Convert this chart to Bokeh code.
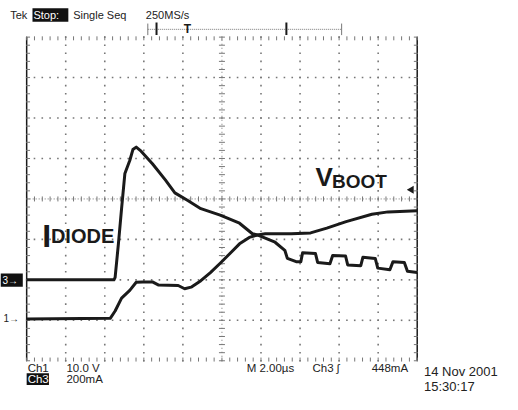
import numpy as np
from bokeh.plotting import figure
from bokeh.core.properties import value
from bokeh.embed import file_html
from bokeh.resources import INLINE

# ---- data: time in microseconds (2 us/div), amplitude in divisions ----
idiode_t = [-10.0, -5.53, -5.47, -5.30, -5.14, -4.97, -4.72, -4.56, -4.39, -4.14,
            -3.56, -2.90, -2.41, -1.75, -1.08, -0.09, 0.90, 1.56, 1.81, 2.72,
            3.22, 3.35, 3.80, 4.04, 4.13, 4.79, 4.90, 5.53, 5.67, 6.33,
            6.44, 7.11, 7.22, 7.85, 7.98, 8.60, 8.76, 9.34, 9.50, 10.0]
idiode_d = [-2.00, -2.00, -1.94, -1.10, -0.24, 0.63, 0.95, 1.22, 1.28, 1.18,
            0.87, 0.47, 0.15, -0.04, -0.24, -0.40, -0.60, -0.86, -0.89, -1.07,
            -1.27, -1.47, -1.55, -1.55, -1.33, -1.35, -1.57, -1.60, -1.40, -1.41,
            -1.63, -1.65, -1.44, -1.47, -1.71, -1.75, -1.55, -1.57, -1.79, -1.82]

vboot_t = [-10.0, -5.72, -5.47, -5.14, -4.72, -4.39, -4.06, -3.56, -3.24, -2.24,
           -1.91, -1.58, -1.08, -0.59, -0.09, 0.41, 0.90, 1.40, 1.81, 2.22,
           3.55, 4.54, 5.37, 6.36, 7.68, 8.51, 10.0]
vboot_d = [-2.97, -2.95, -2.77, -2.45, -2.26, -2.06, -2.05, -2.05, -2.13, -2.14,
           -2.22, -2.18, -2.02, -1.82, -1.59, -1.35, -1.11, -0.95, -0.89, -0.86,
           -0.86, -0.84, -0.72, -0.56, -0.38, -0.32, -0.29]

x_div_lines = [-8, -6, -4, -2, 2, 4, 6, 8]
y_div_lines = [-3, -2, -1, 1, 2, 3]

# ---- layout helpers (reference-pixel -> data coords, for annotations only) ----
def tx(px):
    return (px - 27) / 40.3 * 2 - 10

def dy(py):
    return (206.5 - py) / 42.1

p = figure(width=502, height=394, x_range=(tx(0), tx(518)), y_range=(dy(410), dy(0)),
           output_backend="svg", toolbar_location=None, min_border=0)
p.axis.visible = False
p.grid.visible = False
p.outline_line_color = None
p.background_fill_color = "white"

GRID = "#777777"
INK = "#1a1a1a"
FONT = value("Liberation Sans")

# graticule dots
minor_y = np.round(np.arange(-4, 4.001, 0.2), 3)
minor_x = np.round(np.arange(-10, 10.001, 0.4), 3)
gx = [x for x in x_div_lines for _ in minor_y]
gy = [y for _ in x_div_lines for y in minor_y]
p.scatter(gx, gy, marker="square", size=1.6, color=GRID, line_color=None)
hx = [x for _ in y_div_lines for x in minor_x]
hy = [y for y in y_div_lines for _ in minor_x]
p.scatter(hx, hy, marker="square", size=1.6, color=GRID, line_color=None)

# center cross
p.line([-10, 10], [0, 0], line_color=GRID, line_width=1, line_dash="1 2")
p.scatter(minor_x, [0] * len(minor_x), marker="dash", angle=np.pi / 2, size=5,
          line_color=GRID, line_width=1)
p.line([0, 0], [-4, 4], line_color=GRID, line_width=1, line_dash="1 3")
p.scatter([0] * len(minor_y), minor_y, marker="dash", size=6, line_color=GRID, line_width=1)

# border: solid left/right, tick rows on top/bottom
p.line([-10, -10], [-4, 4], line_color=INK, line_width=1.5)
p.line([10, 10], [-4, 4], line_color=INK, line_width=1.5)
p.scatter(minor_x, [3.97] * len(minor_x), marker="dash", angle=np.pi / 2, size=4,
          line_color=GRID, line_width=1)
p.scatter(minor_x, [-3.97] * len(minor_x), marker="dash", angle=np.pi / 2, size=4,
          line_color=GRID, line_width=1)
p.scatter([-9.93] * len(minor_y), minor_y, marker="dash", size=4, line_color=GRID, line_width=1)
p.scatter([9.93] * len(minor_y), minor_y, marker="dash", size=4, line_color=GRID, line_width=1)

# traces
p.line(idiode_t, idiode_d, line_color=INK, line_width=3, line_join="round")
p.line(vboot_t, vboot_d, line_color=INK, line_width=3, line_join="round")

# trigger level marker
p.scatter([tx(424)], [dy(197)], marker="triangle", angle=np.pi / 2, size=8,
          color=INK, line_color=None)

# record bar at top
p.line([tx(152), tx(352)], [dy(30), dy(30)], line_color=GRID, line_width=1, line_dash="1 1")
p.segment([tx(152), tx(352)], [dy(24), dy(24)], [tx(152), tx(352)], [dy(36), dy(36)],
          line_color=GRID, line_width=1)
p.segment([tx(161), tx(295)], [dy(23), dy(23)], [tx(161), tx(295)], [dy(36), dy(36)],
          line_color=INK, line_width=2)
p.text([tx(193)], [dy(30)], text=["T"], text_font=FONT, text_font_size="12px",
       text_font_style="bold", text_align="center", text_baseline="middle", text_color=INK)

# inverted boxes
p.quad(left=[tx(33), tx(27), tx(0)], right=[tx(70), tx(50), tx(23)],
       top=[dy(8), dy(388), dy(284)], bottom=[dy(22), dy(400), dy(298)],
       color="#111111", line_color=None)

# scope texts
top_txt = ["Tek", "Stop:", "Single Seq", "250MS/s"]
top_x = [10, 34, 75, 150]
p.text([tx(v) for v in top_x], [dy(15)] * 4, text=top_txt, text_font=FONT,
       text_font_size="11px", text_baseline="middle", text_align="left",
       text_color=["#222222", "white", "#222222", "#222222"])

bot_txt = ["Ch1", "10.0 V", "M 2.00\u00b5s", "Ch3 \u0283", "448mA", "Ch3", "200mA"]
bot_x = [28, 68, 254, 322, 383, 28, 68]
bot_y = [382, 382, 382, 382, 382, 394, 394]
p.text([tx(v) for v in bot_x], [dy(v) for v in bot_y], text=bot_txt, text_font=FONT,
       text_font_size="11.5px", text_baseline="middle", text_align="left",
       text_color=["#222222"] * 5 + ["white", "#222222"])

stamp_txt = ["14 Nov 2001", "15:30:17"]
p.text([tx(437), tx(437)], [dy(386), dy(402)], text=stamp_txt, text_font=FONT,
       text_font_size="13px", text_baseline="middle", text_align="left",
       text_color="#222222")

p.text([tx(2), tx(3)], [dy(291), dy(331)], text=["3\u2192", "1\u2192"], text_font=FONT,
       text_font_size="10px", text_baseline="middle", text_align="left",
       text_color=["white", "#222222"])

# trace labels
BOLD = value("Liberation Sans")
p.text([tx(43)], [dy(245)], text=["I"], text_font=BOLD, text_font_size="32px",
       text_font_style="bold", text_baseline="alphabetic", text_color=INK)
p.text([tx(52)], [dy(245)], text=["DIODE"], text_font=BOLD, text_font_size="20px",
       text_font_style="bold", text_baseline="alphabetic", text_color=INK)
p.text([tx(325)], [dy(184)], text=["V"], text_font=BOLD, text_font_size="26px",
       text_font_style="bold", text_baseline="alphabetic", text_color=INK)
p.text([tx(342)], [dy(188)], text=["BOOT"], text_font=BOLD, text_font_size="19px",
       text_font_style="bold", text_baseline="alphabetic", text_color=INK)

open("out.html", "w").write(file_html(p, INLINE))
